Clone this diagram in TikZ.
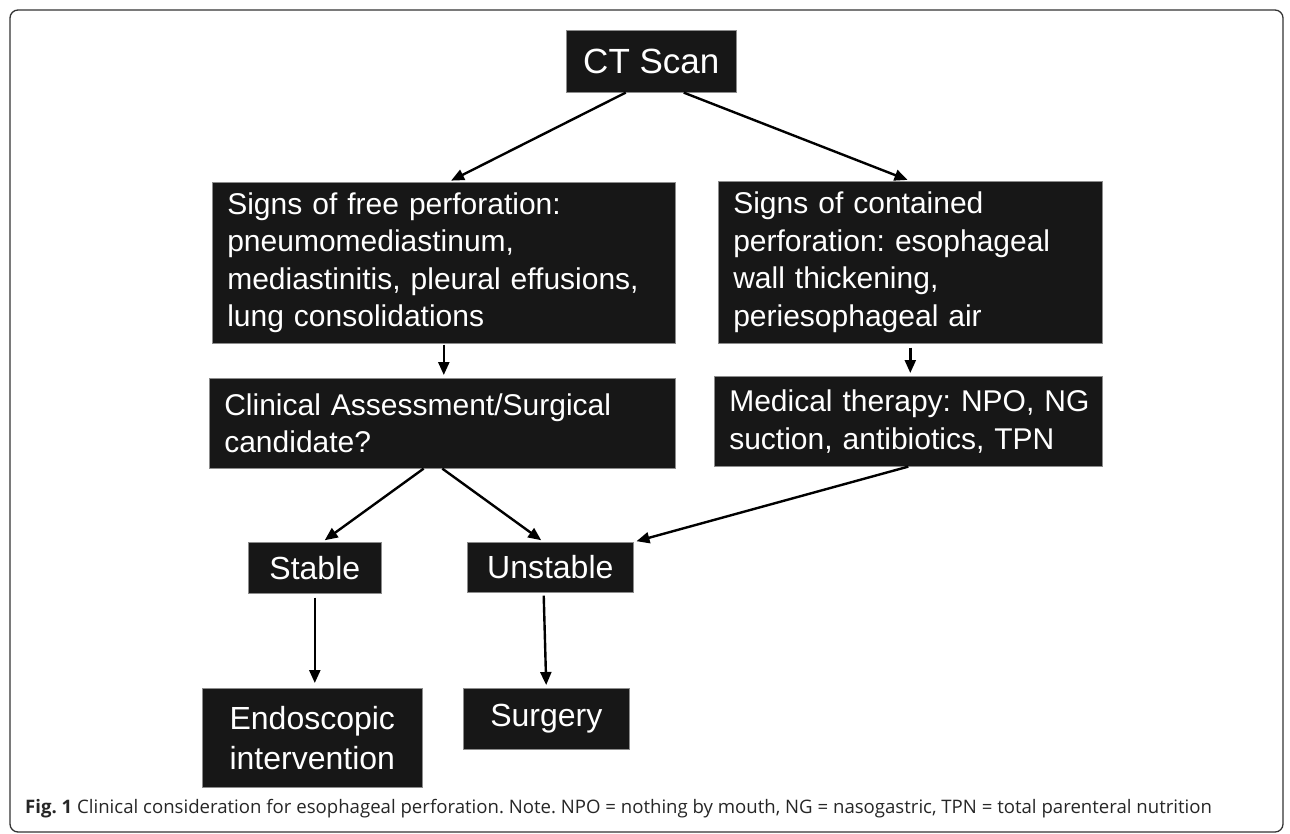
\documentclass[tikz,border=0pt]{standalone}
\usepackage{fontspec}
\setmainfont{Liberation Sans}
\newfontfamily\capfont{Open Sans}
\usetikzlibrary{arrows.meta,calc,positioning}
\frenchspacing

\begin{document}
\begin{tikzpicture}[x=1pt,y=1pt]
\tikzstyle{every node}+=[inner sep=0pt]
\tikzstyle{darkbox}=[draw=black!45, line width=0.6pt, fill={rgb,255:red,23;green,23;blue,23}, text=white, anchor=north west]
\tikzstyle{leftbox}=[darkbox, align=left, inner xsep=15pt, font=\fontsize{30}{37.5}\selectfont]
\tikzstyle{midbox}=[darkbox, align=center, font=\fontsize{32}{40}\selectfont]
\tikzstyle{flow}=[black, line width=2.4pt, -{Triangle[length=13pt,width=11pt]}, shorten >=3pt]
\useasboundingbox (0,0) rectangle (1290,-833);
\draw [black!80, line width=1.3pt, rounded corners=8pt] (10,-10) rectangle (1283,-832);
\node [midbox, font=\fontsize{35}{42}\selectfont, minimum width=170pt, minimum height=62pt] (ct) at (566,-30) {CT Scan};
\node [leftbox, text width=433pt, minimum height=161pt] (free) at (212,-182) {Signs of free perforation:\\pneumomediastinum,\\mediastinitis, pleural effusions,\\lung consolidations};
\node [leftbox, text width=354pt, minimum height=162pt] (cont) at (718,-181) {Signs of contained\\perforation: esophageal\\wall thickening,\\periesophageal air};
\node [leftbox, text width=436pt, minimum height=90pt] (clin) at (209,-378) {Clinical Assessment/Surgical\\candidate?};
\node [leftbox, text width=358pt, minimum height=90pt] (med) at (714,-376) {\mbox{Medical therapy: NPO, NG}\\suction, antibiotics, TPN};
\node [midbox, minimum width=133pt, minimum height=51pt] (stable) at (248,-542) {Stable};
\node [midbox, minimum width=166pt, minimum height=50pt] (unstable) at (467,-542) {Unstable};
\node [midbox, minimum width=220pt, minimum height=99pt] (endo) at (202,-688) {Endoscopic\\intervention};
\node [midbox, minimum width=166pt, minimum height=61pt] (surg) at (463,-688) {Surgery};
\node [anchor=base west, font=\capfont\fontsize{18.6}{22}\selectfont, text=black!85] (caption) at (25,-813) {\textbf{Fig. 1} Clinical consideration for esophageal perforation. Note. NPO = nothing by mouth, NG = nasogastric, TPN = total parenteral nutrition};
\draw [flow] ($(ct.south west)!0.35!(ct.south east)$) -- ($(free.north west)!0.51!(free.north east)$);
\draw [flow] ($(ct.south west)!0.69!(ct.south east)$) -- (cont.north);
\draw [flow, shorten <=1pt] (free.south) -- (free.south |- clin.north);
\draw [flow, shorten <=4pt] (cont.south) -- (cont.south |- med.north);
\draw [flow] ($(clin.south west)!0.46!(clin.south east)$) -- ($(stable.north west)!0.556!(stable.north east)$);
\draw [flow] (clin.south) -- ($(unstable.north west)!0.46!(unstable.north east)$);
\draw [flow] (med.south) -- (unstable.north east);
\draw [flow, shorten <=4pt, shorten >=5pt] (stable.south) -- (stable.south |- endo.north);
\draw [flow, shorten <=3pt] ($(unstable.south west)!0.46!(unstable.south east)$) -- (surg.north);
\end{tikzpicture}
\end{document}
